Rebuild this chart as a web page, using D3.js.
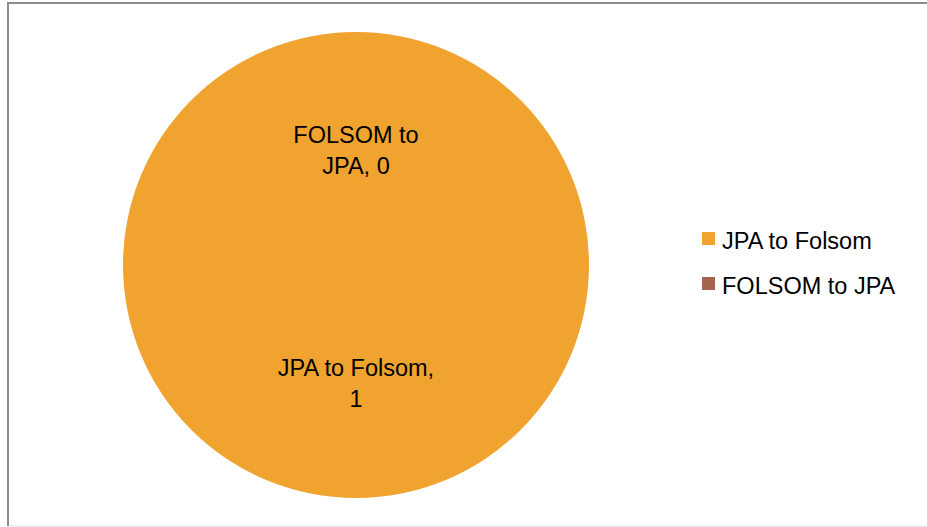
<!DOCTYPE html>
<html>
<head>
<meta charset="utf-8">
<script src="https://cdn.jsdelivr.net/npm/d3@7.9.0/dist/d3.min.js"></script>
<style>
  html, body { margin: 0; padding: 0; background: #fff; }
  svg { display: block; font-family: 'Liberation Sans', Arial, sans-serif; }
</style>
</head>
<body>
<svg id="chart" width="927" height="527"></svg>
<script>
const categories = ['JPA to Folsom', 'FOLSOM to JPA'];
const values = [1, 0];
const colors = ['#F0A32F', '#A5644E'];

const svg = d3.select('#chart');

// frame
svg.append('rect')
  .attr('x', 8).attr('y', 2.5)
  .attr('width', 940).attr('height', 523.5)
  .attr('fill', 'none')
  .attr('stroke', '#e0e0e0')
  .attr('stroke-width', 1);
svg.append('path')
  .attr('d', 'M8,526V3H927')
  .attr('fill', 'none')
  .attr('stroke', '#8c8c8c')
  .attr('stroke-width', 2);

const cx = 356, cy = 265, r = 233;
const g = svg.append('g').attr('transform', `translate(${cx},${cy})`);

const data = categories.map((c, i) => ({ label: c, value: values[i] }));
const pie = d3.pie().value((d) => d.value).sort(null);
const arcData = pie(data);
const arc = d3.arc().innerRadius(0).outerRadius(r);
const labelArc = d3.arc().innerRadius(r * 0.5).outerRadius(r * 0.5);

arcData.forEach((d, i) => {
  g.append('path')
    .attr('d', arc(d))
    .attr('fill', colors[i]);
});

arcData.forEach((d) => {
  let [x, y] = labelArc.centroid(d);
  let lines = d.data.label === 'JPA to Folsom'
    ? ['JPA to Folsom,', String(d.data.value)]
    : ['FOLSOM to', `JPA, ${d.data.value}`];
  let t = g.append('text')
    .attr('x', x)
    .attr('y', y - 6)
    .attr('text-anchor', 'middle')
    .attr('font-size', 23.5)
    .attr('fill', '#000');
  lines.forEach((ln, k) => {
    t.append('tspan').attr('x', x).attr('dy', k === 0 ? 0 : 31).text(ln);
  });
});

// legend
const legend = svg.append('g').attr('transform', 'translate(702,232)');
categories.forEach((c, i) => {
  let row = legend.append('g').attr('transform', `translate(0,${i * 45})`);
  row.append('rect').attr('width', 13).attr('height', 13).attr('fill', colors[i]);
  row.append('text')
    .attr('x', 20).attr('y', 16.5)
    .attr('font-size', 23.5)
    .attr('fill', '#000')
    .text(c);
});
</script>
</body>
</html>
